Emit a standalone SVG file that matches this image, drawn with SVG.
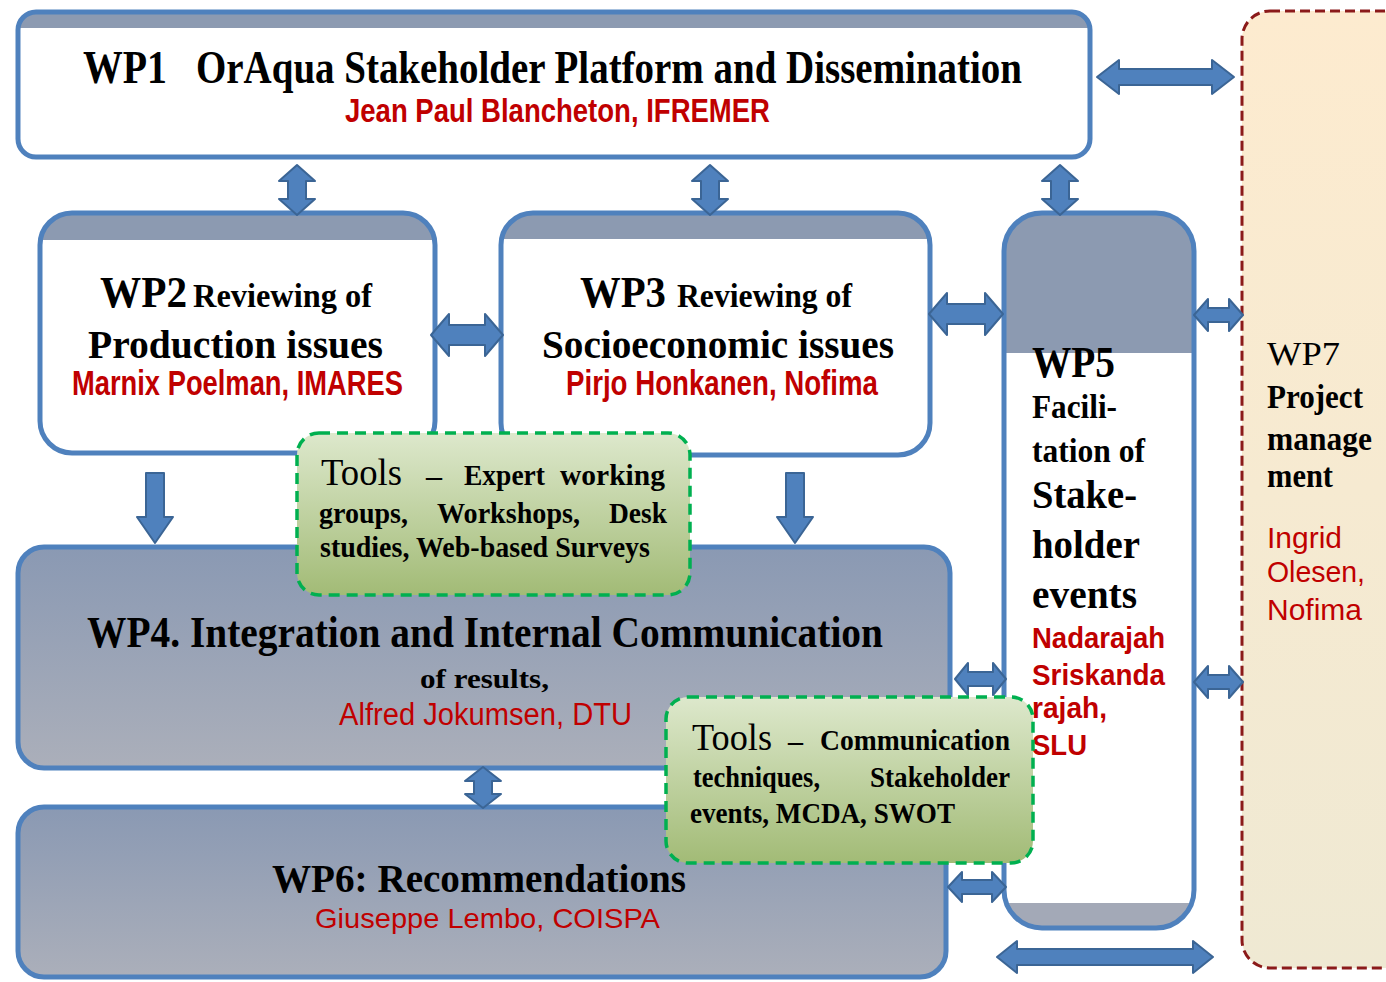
<svg xmlns="http://www.w3.org/2000/svg" width="1386" height="982" viewBox="0 0 1386 982">
<style>
.box{fill:none;stroke:#4f81bd;stroke-width:5}
.band{fill:#8c9ab1}
.white{fill:#ffffff}
.arr{fill:#4f81bd;stroke:#3b6595;stroke-width:2;stroke-linejoin:round}
.ser{font-family:"Liberation Serif","Times New Roman",serif;fill:#000}
.b{font-weight:bold}
.red{font-family:"Liberation Sans",Arial,sans-serif;fill:#c00000}
.tool{stroke:#00b050;stroke-width:3.5;stroke-dasharray:11 7}
</style>
<defs>
<linearGradient id="gBlue" x1="0" y1="0" x2="0" y2="1">
<stop offset="0" stop-color="#8a99b3"/><stop offset="1" stop-color="#abafba"/>
</linearGradient>
<linearGradient id="gGreen" x1="0" y1="0" x2="0" y2="1">
<stop offset="0" stop-color="#dde8cc"/><stop offset="1" stop-color="#a2bb76"/>
</linearGradient>
<linearGradient id="gPeach" x1="0" y1="0" x2="0" y2="1">
<stop offset="0" stop-color="#fdebcf"/><stop offset="1" stop-color="#efe9d3"/>
</linearGradient>
<clipPath id="c1"><rect x="18" y="12" width="1072" height="145" rx="18"/></clipPath>
<clipPath id="c2"><rect x="40" y="213" width="395" height="240" rx="32"/></clipPath>
<clipPath id="c3"><rect x="501" y="213" width="429" height="242" rx="32"/></clipPath>
<clipPath id="c5"><rect x="1004" y="213" width="190" height="715" rx="38"/></clipPath>
</defs>

<g id="wp7">
<rect x="1242" y="11" width="180" height="957" rx="28" fill="url(#gPeach)" stroke="#8b1a1a" stroke-width="3" stroke-dasharray="10 5"/>
<text class="ser" x="1267" y="365" font-size="34" textLength="73" lengthAdjust="spacingAndGlyphs">WP7</text>
<text class="ser b" x="1267" y="408" font-size="33" textLength="96" lengthAdjust="spacingAndGlyphs">Project</text>
<text class="ser b" x="1267" y="450" font-size="33" textLength="105" lengthAdjust="spacingAndGlyphs">manage</text>
<text class="ser b" x="1267" y="487" font-size="33" textLength="66" lengthAdjust="spacingAndGlyphs">ment</text>
<text class="red" x="1267" y="548" font-size="30" textLength="75" lengthAdjust="spacingAndGlyphs">Ingrid</text>
<text class="red" x="1267" y="582" font-size="30" textLength="98" lengthAdjust="spacingAndGlyphs">Olesen,</text>
<text class="red" x="1267" y="620" font-size="30" textLength="95" lengthAdjust="spacingAndGlyphs">Nofima</text>
</g>

<g id="wp1">
<g clip-path="url(#c1)"><rect class="white" x="18" y="12" width="1072" height="145"/><rect class="band" x="18" y="12" width="1072" height="16"/></g>
<rect class="box" x="18" y="12" width="1072" height="145" rx="18"/>
<text class="ser b" x="83" y="83" font-size="47" textLength="84" lengthAdjust="spacingAndGlyphs">WP1</text>
<text class="ser b" x="196" y="83" font-size="47" textLength="826" lengthAdjust="spacingAndGlyphs">OrAqua Stakeholder Platform and Dissemination</text>
<text class="red b" x="345" y="122" font-size="34" textLength="425" lengthAdjust="spacingAndGlyphs">Jean Paul Blancheton, IFREMER</text>
</g>

<g id="wp2">
<g clip-path="url(#c2)"><rect class="white" x="40" y="213" width="395" height="240"/><rect class="band" x="40" y="213" width="395" height="27"/></g>
<rect class="box" x="40" y="213" width="395" height="240" rx="32"/>
<text class="ser b" x="100" y="307" font-size="45" textLength="87" lengthAdjust="spacingAndGlyphs">WP2</text>
<text class="ser b" x="193" y="307" font-size="34" textLength="179" lengthAdjust="spacingAndGlyphs">Reviewing of</text>
<text class="ser b" x="88" y="358" font-size="40" textLength="295" lengthAdjust="spacingAndGlyphs">Production issues</text>
<text class="red b" x="72" y="395" font-size="35" textLength="331" lengthAdjust="spacingAndGlyphs">Marnix Poelman, IMARES</text>
</g>

<g id="wp3">
<g clip-path="url(#c3)"><rect class="white" x="501" y="213" width="429" height="242"/><rect class="band" x="501" y="213" width="429" height="26"/></g>
<rect class="box" x="501" y="213" width="429" height="242" rx="32"/>
<text class="ser b" x="580" y="307" font-size="45" textLength="86" lengthAdjust="spacingAndGlyphs">WP3</text>
<text class="ser b" x="677" y="307" font-size="34" textLength="175" lengthAdjust="spacingAndGlyphs">Reviewing of</text>
<text class="ser b" x="542" y="358" font-size="40" textLength="352" lengthAdjust="spacingAndGlyphs">Socioeconomic issues</text>
<text class="red b" x="566" y="395" font-size="35" textLength="312" lengthAdjust="spacingAndGlyphs">Pirjo Honkanen, Nofima</text>
</g>

<g id="wp5">
<g clip-path="url(#c5)"><rect class="white" x="1004" y="213" width="190" height="715"/><rect class="band" x="1004" y="213" width="190" height="140"/><rect x="1004" y="903" width="190" height="25" fill="#a3a9b7"/></g>
<rect class="box" x="1004" y="213" width="190" height="715" rx="38"/>
<text class="ser b" x="1032" y="377" font-size="45" textLength="83" lengthAdjust="spacingAndGlyphs">WP5</text>
<text class="ser b" x="1032" y="418" font-size="34" textLength="85" lengthAdjust="spacingAndGlyphs">Facili-</text>
<text class="ser b" x="1032" y="462" font-size="34" textLength="113" lengthAdjust="spacingAndGlyphs">tation of</text>
<text class="ser b" x="1032" y="508" font-size="39" textLength="105" lengthAdjust="spacingAndGlyphs">Stake-</text>
<text class="ser b" x="1032" y="558" font-size="39" textLength="108" lengthAdjust="spacingAndGlyphs">holder</text>
<text class="ser b" x="1032" y="608" font-size="39" textLength="105" lengthAdjust="spacingAndGlyphs">events</text>
<text class="red b" x="1032" y="648" font-size="30" textLength="133" lengthAdjust="spacingAndGlyphs">Nadarajah</text>
<text class="red b" x="1032" y="685" font-size="30" textLength="133" lengthAdjust="spacingAndGlyphs">Sriskanda</text>
<text class="red b" x="1032" y="718" font-size="30" textLength="75" lengthAdjust="spacingAndGlyphs">rajah,</text>
<text class="red b" x="1032" y="755" font-size="30" textLength="55" lengthAdjust="spacingAndGlyphs">SLU</text>
</g>

<g id="wp4">
<rect x="18" y="547" width="932" height="221" rx="26" fill="url(#gBlue)" stroke="#4f81bd" stroke-width="5"/>
<text class="ser b" x="87" y="647" font-size="44" textLength="796" lengthAdjust="spacingAndGlyphs">WP4. Integration and Internal Communication</text>
<text class="ser b" x="420" y="688" font-size="28" textLength="129" lengthAdjust="spacingAndGlyphs">of results,</text>
<text class="red" x="339" y="725" font-size="31" textLength="293" lengthAdjust="spacingAndGlyphs">Alfred Jokumsen, DTU</text>
</g>

<g id="wp6">
<rect x="18" y="807" width="928" height="170" rx="26" fill="url(#gBlue)" stroke="#4f81bd" stroke-width="5"/>
<text class="ser b" x="272" y="892" font-size="40" textLength="414" lengthAdjust="spacingAndGlyphs">WP6: Recommendations</text>
<text class="red" x="315" y="928" font-size="28" textLength="345" lengthAdjust="spacingAndGlyphs">Giuseppe Lembo, COISPA</text>
</g>

<g id="connectors">
<path class="arr" d="M1097,77 L1119,60 L1119,69 L1212,69 L1212,60 L1234,77 L1212,94 L1212,85 L1119,85 L1119,94 Z"/>
<path class="arr" d="M297,165 L315,181 L306,181 L306,199 L315,199 L297,215 L279,199 L288,199 L288,181 L279,181 Z"/>
<path class="arr" d="M710,165 L728,181 L719,181 L719,199 L728,199 L710,215 L692,199 L701,199 L701,181 L692,181 Z"/>
<path class="arr" d="M1060,165 L1078,181 L1069,181 L1069,199 L1078,199 L1060,215 L1042,199 L1051,199 L1051,181 L1042,181 Z"/>
<path class="arr" d="M431,335 L449,314 L449,325 L485,325 L485,314 L503,335 L485,356 L485,345 L449,345 L449,356 Z"/>
<path class="arr" d="M929,314 L947,293 L947,304 L985,304 L985,293 L1003,314 L985,335 L985,324 L947,324 L947,335 Z"/>
<path class="arr" d="M1194,315 L1208,299 L1208,308 L1229,308 L1229,299 L1243,315 L1229,331 L1229,322 L1208,322 L1208,331 Z"/>
<path class="arr" d="M1194,682 L1208,666 L1208,675 L1229,675 L1229,666 L1243,682 L1229,698 L1229,689 L1208,689 L1208,698 Z"/>
<path class="arr" d="M955,679 L968,663 L968,672 L993,672 L993,663 L1006,679 L993,695 L993,686 L968,686 L968,695 Z"/>
<path class="arr" d="M948,887 L962,872 L962,880 L992,880 L992,872 L1006,887 L992,902 L992,894 L962,894 L962,902 Z"/>
<path class="arr" d="M997,957 L1017,941 L1017,949 L1193,949 L1193,941 L1213,957 L1193,973 L1193,965 L1017,965 L1017,973 Z"/>
<path class="arr" d="M146,473 L164,473 L164,517 L173,517 L155,543 L137,517 L146,517 Z"/>
<path class="arr" d="M786,473 L804,473 L804,517 L813,517 L795,543 L777,517 L786,517 Z"/>
<path class="arr" d="M483,767 L501,781 L492,781 L492,794 L501,794 L483,808 L465,794 L474,794 L474,781 L465,781 Z"/>
</g>

<g id="tools1">
<rect class="tool" x="297" y="433" width="393" height="162" rx="22" fill="url(#gGreen)"/>
<text class="ser" x="321" y="485" font-size="37" textLength="81" lengthAdjust="spacingAndGlyphs">Tools</text>
<text class="ser b" x="426" y="485" font-size="28" textLength="16" lengthAdjust="spacingAndGlyphs">–</text>
<text class="ser b" x="464" y="485" font-size="29" textLength="81" lengthAdjust="spacingAndGlyphs">Expert</text>
<text class="ser b" x="560" y="485" font-size="29" textLength="105" lengthAdjust="spacingAndGlyphs">working</text>
<text class="ser b" x="319" y="523" font-size="29" textLength="89" lengthAdjust="spacingAndGlyphs">groups,</text>
<text class="ser b" x="437" y="523" font-size="29" textLength="143" lengthAdjust="spacingAndGlyphs">Workshops,</text>
<text class="ser b" x="609" y="523" font-size="29" textLength="58" lengthAdjust="spacingAndGlyphs">Desk</text>
<text class="ser b" x="320" y="557" font-size="29" textLength="330" lengthAdjust="spacingAndGlyphs">studies, Web-based Surveys</text>
</g>

<g id="tools2">
<rect class="tool" x="666" y="697" width="367" height="166" rx="22" fill="url(#gGreen)"/>
<text class="ser" x="692" y="750" font-size="37" textLength="80" lengthAdjust="spacingAndGlyphs">Tools</text>
<text class="ser b" x="788" y="750" font-size="28" textLength="15" lengthAdjust="spacingAndGlyphs">–</text>
<text class="ser b" x="820" y="750" font-size="29" textLength="190" lengthAdjust="spacingAndGlyphs">Communication</text>
<text class="ser b" x="693" y="787" font-size="29" textLength="127" lengthAdjust="spacingAndGlyphs">techniques,</text>
<text class="ser b" x="870" y="787" font-size="29" textLength="140" lengthAdjust="spacingAndGlyphs">Stakeholder</text>
<text class="ser b" x="690" y="823" font-size="29" textLength="265" lengthAdjust="spacingAndGlyphs">events, MCDA, SWOT</text>
</g>
</svg>
